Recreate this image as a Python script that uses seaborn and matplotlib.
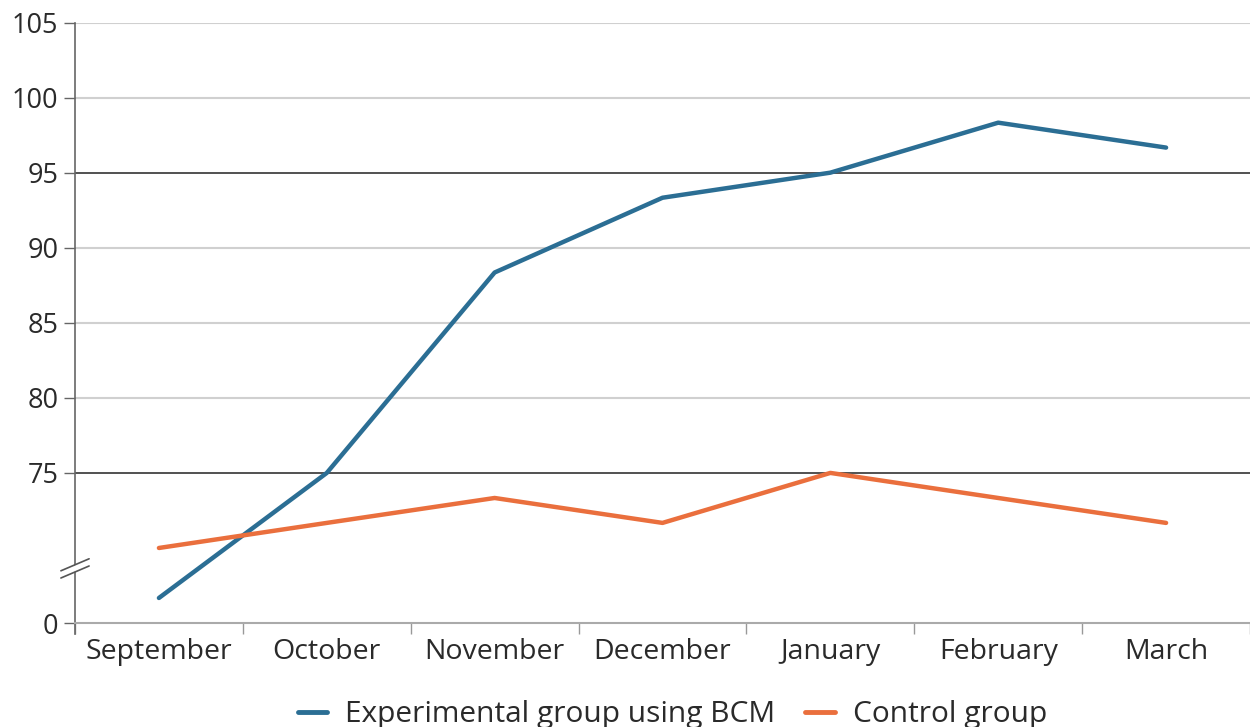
import numpy as np
import pandas as pd
import seaborn as sns
import matplotlib.pyplot as plt
from matplotlib.lines import Line2D

months = ['September', 'October', 'November', 'December', 'January', 'February', 'March']
# values on the displayed (broken) scale: the "0" tick sits at 65
experimental = [66.67, 75.0, 88.35, 93.33, 95.0, 98.33, 96.67]
control = [70.0, 71.67, 73.33, 71.67, 75.0, 73.33, 71.67]
tick_vals = [65, 75, 80, 85, 90, 95, 100, 105]
tick_labels = ['0', '75', '80', '85', '90', '95', '100', '105']

df = pd.DataFrame({
    'Month': months * 2,
    'Score': experimental + control,
    'Group': ['Experimental group using BCM'] * 7 + ['Control group'] * 7,
})

sns.set_style('white')
plt.rcParams['font.family'] = ['Open Sans', 'DejaVu Sans']

fig = plt.figure(figsize=(12.5, 7.27), dpi=100)
ax = fig.add_axes([0.06, 0.143, 0.94, 0.826])

# grid lines
for v in [80, 85, 90, 100, 105]:
    ax.axhline(v, color='#d0d0d0', lw=1.5, zorder=0)
for v in [75, 95]:
    ax.axhline(v, color='#333333', lw=1.2, zorder=0)

sns.lineplot(data=df, x='Month', y='Score', hue='Group', sort=False,
             palette=['#2b6e94', '#ea6f3d'], linewidth=3.2, ax=ax, legend=False)

ax.set_xlim(-0.5, 6.5)
ax.set_ylim(65, 105)
ax.set_yticks(tick_vals)
ax.set_yticklabels(tick_labels)
ax.set_xticks(range(7))
ax.set_xticklabels(months)
ax.set_xticks(np.arange(-0.5, 7, 1), minor=True)
ax.tick_params(axis='x', which='major', bottom=False, length=0, pad=11, labelsize=20.5, colors='#2a2a2a')
ax.tick_params(axis='x', which='minor', bottom=True, length=8, width=1, color='#999999')
ax.tick_params(axis='y', left=True, length=8, width=1, color='#666666', labelsize=19.5,
               labelcolor='#2a2a2a', pad=4)
ax.set_xlabel('')
ax.set_ylabel('')

for s in ['top', 'right']:
    ax.spines[s].set_visible(False)
ax.spines['left'].set_color('#666666')
ax.spines['left'].set_linewidth(1.2)
ax.spines['left'].set_bounds(64.3, 105)
ax.spines['bottom'].set_color('#aaaaaa')
ax.spines['bottom'].set_linewidth(1.5)

# axis break marks
tr = ax.transAxes
for dy in (0.0, 0.012):
    ax.plot([-0.012, 0.012], [0.075 + dy, 0.095 + dy], transform=tr,
            color='#555555', lw=1.2, clip_on=False, zorder=5)
ax.fill([-0.012, 0.012, 0.012, -0.012], [0.077, 0.097, 0.105, 0.085],
        transform=tr, color='white', clip_on=False, zorder=4)

handles = [Line2D([], [], color='#2b6e94', lw=3.5), Line2D([], [], color='#ea6f3d', lw=3.5)]
fig.legend(handles, ['Experimental group using BCM', 'Control group'],
           loc='lower center', bbox_to_anchor=(0.538, -0.04), ncol=2, frameon=False,
           fontsize=21.5, handlelength=1.0, handletextpad=0.6, columnspacing=1.0,
           labelcolor='#2a2a2a')

fig.savefig('out.png', dpi=100)
